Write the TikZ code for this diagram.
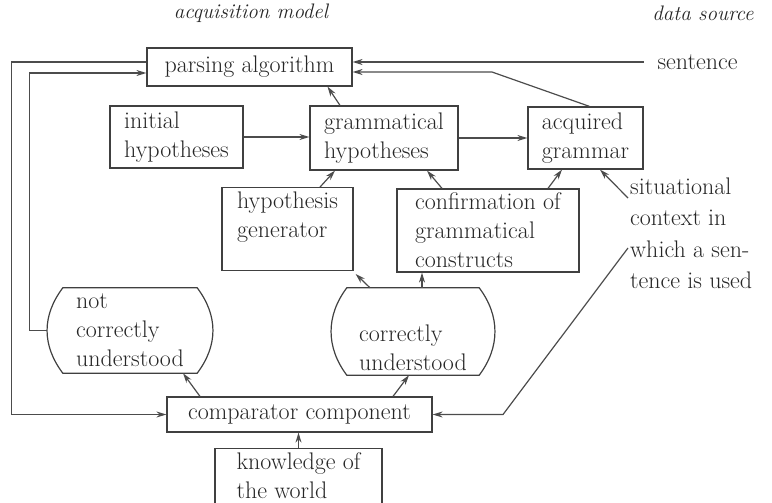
\documentclass[tikz,border=0pt]{standalone}
\usetikzlibrary{arrows.meta}

\tikzset{
  box/.style={draw=black!75, line width=1.2pt, align=left, inner xsep=6pt, inner ysep=4pt},
  blob/.style={align=left, inner sep=0pt},
  hd/.style={font=\fontsize{21}{25}\selectfont\itshape},
  conn/.style={->, draw=black!70, line width=1.2pt},
}

\begin{document}
\begin{tikzpicture}[x=1pt, y=-1pt, >={Stealth[length=10pt,width=6pt]},
  font=\fontsize{24}{29}\selectfont, text=black!85]
\path[use as bounding box, clip] (0,0) rectangle (772,503);

% headings
\node[hd] (acq) at (251,13) {acquisition model};
\node[hd] (src) at (703,13) {data source};

% boxes
\node[box, minimum width=205pt, minimum height=38pt] (pa) at (249.5,67) {parsing algorithm};
\node[box, minimum width=133pt, minimum height=62pt] (ih) at (176.5,137) {initial\\hypotheses};
\node[box, minimum width=148pt, minimum height=64pt] (gh) at (384,138) {grammatical\\hypotheses};
\node[box, minimum width=115pt, minimum height=62pt] (ag) at (585.5,138) {acquired\\grammar};
\node[box, minimum width=131pt, minimum height=82pt] (hg) at (287.5,229) {hypothesis\\generator\\\mbox{}};
\node[box, minimum width=182pt, minimum height=83pt] (cg) at (488,230.5) {confirmation of\\grammatical\\constructs};
\node[blob, minimum width=166pt, minimum height=85pt] (nu) at (130,330.5) {not\\correctly\\understood};
\node[blob, minimum width=164pt, minimum height=87pt] (cu) at (413,331.5) {\strut\\correctly\\understood};
\node[box, minimum width=265pt, minimum height=35pt] (cc) at (299.5,414.5) {comparator component};
\node[box, minimum width=167pt, anchor=north] (kw) at (298.5,448) {knowledge of\\the world\\\mbox{}};

% data source side
\node[inner xsep=13.5pt] (sent) at (697.5,62) {sentence};
\node[align=left, anchor=west, inner sep=2pt, font=\fontsize{24}{31.5}\selectfont] (sit) at (628,233.5)
  {situational\\context in\\which a sen-\\tence is used};

% outlines of the two rounded nodes
\foreach \n in {nu,cu}
  \draw[black!75, line width=1.2pt] ([xshift=16pt]\n.north west) -- ([xshift=-16pt]\n.north east)
    .. controls ([xshift=5pt,yshift=-28pt]\n.north east) and ([xshift=5pt,yshift=28pt]\n.south east) .. ([xshift=-16pt]\n.south east)
    -- ([xshift=16pt]\n.south west)
    .. controls ([xshift=-5pt,yshift=28pt]\n.south west) and ([xshift=-5pt,yshift=-28pt]\n.north west) .. cycle;

\coordinate (kink) at (492,72);
\coordinate (low) at (503,414.5);

% connectors
\draw[conn] (sent.west) -- (sent.west -| pa.east);
\draw[conn] ([xshift=4pt]ag.north) -- (kink) -- (kink -| pa.east);
\draw[conn] ([yshift=5pt]pa.west) -- ++(-135,0) |- (cc.west);
\draw[conn] (nu.west) -- ++(-17,0) |- ([yshift=-6pt]pa.west);
\draw[conn] (ih.east) -- (ih.east -| gh.west);
\draw[conn] (gh.east) -- (gh.east -| ag.west);
\draw[conn] ([xshift=-44pt]gh.north) -- ([xshift=78pt]pa.south);
\draw[conn] ([xshift=32.5pt]hg.north) -- ([xshift=-49pt]gh.south);
\draw[conn] ([xshift=-46pt]cg.north) -- ([xshift=43pt]gh.south);
\draw[conn] ([xshift=60pt]cg.north) -- ([xshift=-23.5pt]ag.south);
\draw[conn] ([yshift=35.5pt]sit.west) -- ([xshift=14.5pt]ag.south);
\draw[conn] ([yshift=-14.5pt]sit.west) -- (low) -- (cc.east);
\draw[conn] ([xshift=-43pt]cu.north) -- ([shift={(2pt,-3pt)}]hg.south east);
\draw[conn] ([xshift=9pt]cu.north) -- ([xshift=9pt]cu.north |- cg.south);
\draw[conn] ([xshift=-99.5pt]cc.north) -- ([xshift=53pt]nu.south);
\draw[conn] ([xshift=93.5pt]cc.north) -- ([xshift=-4pt]cu.south);
\draw[conn] (kw.north) -- (kw.north |- cc.south);
\end{tikzpicture}
\end{document}
